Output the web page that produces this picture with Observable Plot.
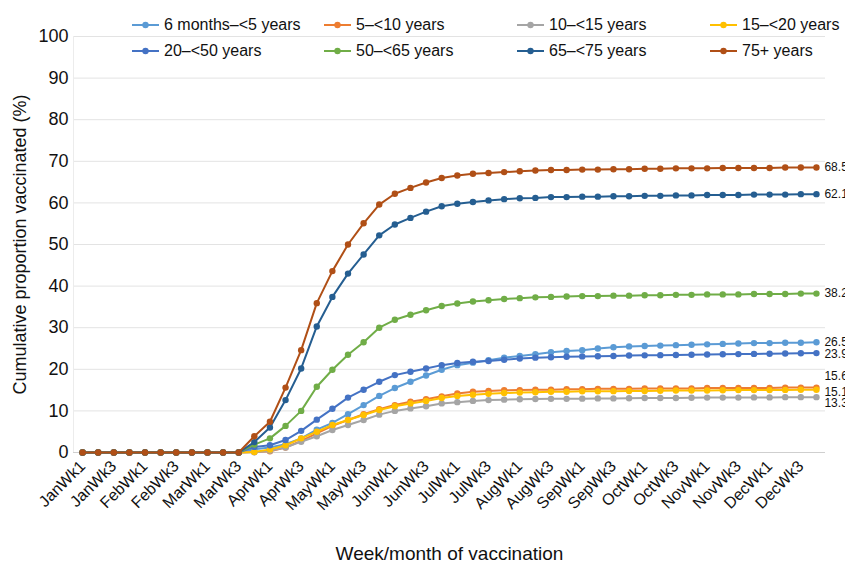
<!DOCTYPE html>
<html>
<head>
<meta charset="utf-8">
<script src="https://cdn.jsdelivr.net/npm/d3@7"></script>
<script src="https://cdn.jsdelivr.net/npm/@observablehq/plot@0.6"></script>
<style>
  html, body { margin: 0; padding: 0; background: #fff; }
  #wrap { position: relative; width: 845px; height: 563px; overflow: hidden; font-family: "Liberation Sans", Arial, sans-serif; }
  #legend .item { position: absolute; display: flex; align-items: center; font-size: 16px; color: #111; white-space: nowrap; transform: translateY(-50%); }
  #legend svg { margin-right: 5px; }
</style>
</head>
<body>
<div id="wrap"><div id="chart"></div><div id="legend"></div></div>
<script>
// ---- data ----
const months = ["Jan","Feb","Mar","Apr","May","Jun","Jul","Aug","Sep","Oct","Nov","Dec"];
const weekNums = [1, 2, 3, 4];
const weeks = months.flatMap(m => weekNums.map(w => `${m}Wk${w}`));

const seriesNames = ["6 months\u2013<5 years","5\u2013<10 years","10\u2013<15 years","15\u2013<20 years",
                     "20\u2013<50 years","50\u2013<65 years","65\u2013<75 years","75+ years"];
const colors = ["#5b9bd5","#ed7d31","#a5a5a5","#ffc000","#4472c4","#70ad47","#255e91","#b04f16"];

const zeros = [0,0,0,0,0,0,0,0,0,0,0];
const s6m = [...zeros, 0.8,1.2,2.0,3.4,5.5,7.1,9.2,11.4,13.6,15.5,17.0,18.5,19.9,21.0,21.6,22.2,22.8,23.2,23.6,24.1,24.4,24.6,25.0,25.3,25.5,25.6,25.7,25.8,25.9,26.0,26.1,26.2,26.3,26.3,26.4,26.4,26.5];
const s5 = [...zeros, 0.1,0.3,1.2,2.8,4.6,6.4,7.8,9.2,10.4,11.4,12.2,12.8,13.5,14.2,14.6,14.8,14.95,15.0,15.1,15.1,15.2,15.2,15.3,15.3,15.3,15.4,15.4,15.4,15.4,15.5,15.5,15.5,15.5,15.5,15.6,15.6,15.6];
const s10 = [...zeros, 0.05,0.4,1.2,2.6,3.9,5.4,6.6,7.8,9.1,10.0,10.6,11.1,11.8,12.1,12.4,12.6,12.7,12.8,12.85,12.9,12.9,12.95,13.0,13.0,13.05,13.1,13.1,13.1,13.15,13.2,13.2,13.2,13.25,13.25,13.3,13.3,13.3];
const s15 = [...zeros, 0.15,0.7,1.75,3.4,5.0,6.6,7.8,9.0,10.2,11.1,11.8,12.4,13.1,13.6,13.9,14.1,14.3,14.4,14.5,14.6,14.6,14.7,14.7,14.75,14.8,14.8,14.85,14.9,14.9,14.9,14.95,15.0,15.0,15.0,15.05,15.1,15.1];
const s20 = [...zeros, 1.35,1.75,3.0,5.2,7.9,10.5,13.2,15.1,17.0,18.6,19.4,20.2,21.0,21.5,21.8,22.0,22.3,22.6,22.8,22.9,23.0,23.1,23.15,23.2,23.3,23.35,23.4,23.45,23.5,23.55,23.6,23.65,23.7,23.75,23.8,23.85,23.9];
const s50 = [...zeros, 1.9,3.4,6.4,10.0,15.8,19.9,23.5,26.5,30.0,31.9,33.1,34.2,35.2,35.8,36.3,36.6,36.9,37.1,37.3,37.4,37.5,37.6,37.6,37.7,37.7,37.8,37.8,37.9,37.9,38.0,38.0,38.0,38.1,38.1,38.1,38.2,38.2];
const s65 = [...zeros, 2.5,6.0,12.6,20.2,30.3,37.4,43.0,47.6,52.2,54.8,56.4,57.9,59.2,59.8,60.2,60.6,60.9,61.1,61.2,61.4,61.4,61.5,61.5,61.6,61.6,61.7,61.7,61.8,61.8,61.9,61.9,61.9,62.0,62.0,62.0,62.1,62.1];
const s75 = [...zeros, 3.9,7.4,15.6,24.6,35.9,43.6,50.0,55.1,59.6,62.2,63.6,64.9,66.0,66.6,67.0,67.2,67.4,67.6,67.8,67.9,67.9,68.0,68.0,68.1,68.1,68.2,68.2,68.3,68.3,68.3,68.4,68.4,68.4,68.4,68.5,68.5,68.5];
const seriesValues = [s6m, s5, s10, s15, s20, s50, s65, s75];

const endLabels = ["26.5","15.6","13.3","15.1","23.9","38.2","62.1","68.5"];
const labelShift = [0, -11, 6, 2, 1, 0, 0, 0];

const yTicks = [0,10,20,30,40,50,60,70,80,90,100];
const xTickIdx = d3.range(0, weeks.length, 2);

// ---- build ----
const marks = [
  Plot.gridY(yTicks.slice(1), {stroke: "#e3e3e3", strokeOpacity: 1}),
  Plot.ruleY([0], {stroke: "#cfcfcf"}),
  Plot.ruleX([-0.58], {y1: 0, y2: 100, stroke: "#ececec"}),
  Plot.axisY(yTicks, {tickSize: 0, tickPadding: 5, fontSize: 18, label: null}),
  Plot.axisX(xTickIdx, {tickFormat: i => weeks[i], tickRotate: -45, tickSize: 0, tickPadding: 11, fontSize: 16, label: null}),
  Plot.text(["Cumulative proportion vaccinated (%)"], {frameAnchor: "left", textAnchor: "middle", rotate: -90, dx: -53, fontSize: 18, fill: "#111"}),
  Plot.text(["Week/month of vaccination"], {frameAnchor: "bottom", dy: 107, fontSize: 19, fill: "#111"})
];
seriesNames.forEach((name, k) => {
  const rows = seriesValues[k].map((v, i) => ({i, v, s: name}));
  marks.push(Plot.line(rows, {x: "i", y: "v", stroke: colors[k], strokeWidth: 2}));
  marks.push(Plot.dot(rows, {x: "i", y: "v", fill: colors[k], r: 3.2}));
  const last = rows[rows.length - 1];
  marks.push(Plot.text([last], {x: "i", y: "v", text: () => endLabels[k], dx: 8, dy: labelShift[k], textAnchor: "start", fontSize: 12, fill: "#111"}));
});

const chart = Plot.plot({
  width: 845, height: 563,
  marginTop: 36, marginBottom: 111, marginLeft: 73, marginRight: 20,
  style: {fontFamily: "'Liberation Sans', Arial, sans-serif", background: "transparent", color: "#111"},
  x: {type: "linear", domain: [-0.58, 47.58]},
  y: {domain: [0, 100]},
  marks
});
document.getElementById("chart").appendChild(chart);

// ---- legend ----
const legend = document.getElementById("legend");
const colLeft = [132, 324, 517, 710];
const rowTop = [25, 51];
seriesNames.forEach((name, k) => {
  const item = document.createElement("div");
  item.className = "item";
  item.style.left = colLeft[k % 4] + "px";
  item.style.top = rowTop[Math.floor(k / 4)] + "px";
  item.innerHTML = `<svg width="27" height="10"><line x1="0" y1="5" x2="27" y2="5" stroke="${colors[k]}" stroke-width="2"/><circle cx="13.5" cy="5" r="3.2" fill="${colors[k]}"/></svg><span>${name}</span>`;
  legend.appendChild(item);
});
</script>
</body>
</html>
